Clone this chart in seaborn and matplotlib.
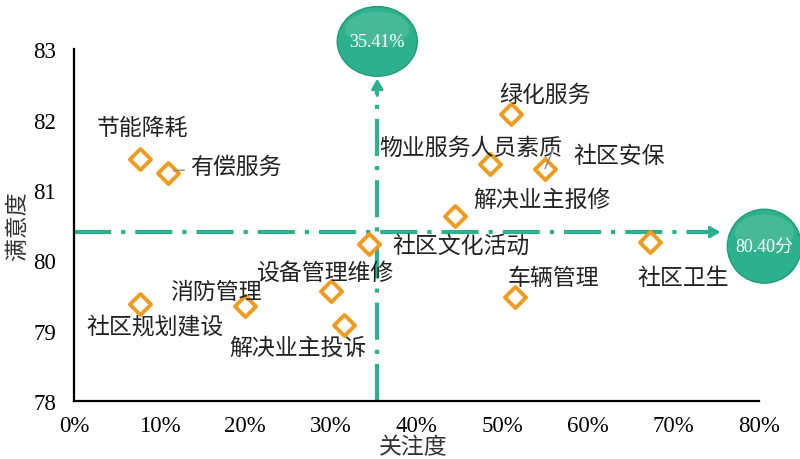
import numpy as np
import pandas as pd
import seaborn as sns
import matplotlib.pyplot as plt
from matplotlib.patches import Ellipse
from matplotlib.ticker import FuncFormatter

# data
items = ["节能降耗", "有偿服务", "绿化服务", "物业服务人员素质", "社区安保", "解决业主报修",
         "社区文化活动", "社区卫生", "车辆管理", "设备管理维修", "消防管理", "社区规划建设", "解决业主投诉"]
attention = [7.7, 11.0, 51.0, 48.6, 55.0, 44.5, 34.5, 67.2, 51.5, 30.0, 20.0, 7.7, 31.5]
satisfaction = [81.44, 81.24, 82.08, 81.37, 81.30, 80.63, 80.23, 80.26, 79.48, 79.56, 79.35, 79.38, 79.08]
mean_attention = 35.41
mean_satisfaction = 80.40

df = pd.DataFrame({"item": items, "attention": attention, "satisfaction": satisfaction})

sns.set_style("white")
plt.rcParams['font.family'] = ['Liberation Serif', 'Noto Sans CJK SC', 'DejaVu Sans']

teal = "#2DB08C"
orange = "#EE9B22"
dashdot = (0, (8.9, 2.4, 1, 2.4))

fig = plt.figure(figsize=(8, 4.6), dpi=100)
ax = fig.add_axes([0.0925, 0.126, 0.8565, 0.765])

# reference lines
ax.plot([mean_attention, mean_attention], [78, 82.5], color=teal, lw=3,
        linestyle=dashdot, zorder=1)
ax.plot([0, 75.0], [mean_satisfaction, mean_satisfaction], color=teal, lw=3,
        linestyle=dashdot, zorder=1)
ax.annotate("", xy=(mean_attention, 82.62), xytext=(mean_attention, 82.3),
            arrowprops=dict(arrowstyle="-|>,head_length=0.6,head_width=0.35", color=teal, lw=2),
            annotation_clip=False)
ax.annotate("", xy=(75.8, mean_satisfaction), xytext=(74.5, mean_satisfaction),
            arrowprops=dict(arrowstyle="-|>,head_length=0.6,head_width=0.35", color=teal, lw=2),
            annotation_clip=False)

# bubbles
for (cx, cy, w, h, txt) in [(mean_attention, 83.11, 9.35, 0.99, "35.41%"),
                            (80.6, 80.20, 8.64, 1.05, "80.40分")]:
    ax.add_patch(Ellipse((cx, cy), w, h, facecolor=teal, edgecolor="#1F9C78", lw=1,
                         clip_on=False, zorder=4))
    ax.add_patch(Ellipse((cx, cy + h * 0.18), w * 0.8, h * 0.5, facecolor="white",
                         alpha=0.12, lw=0, clip_on=False, zorder=4))
    ax.text(cx, cy, txt, ha="center", va="center", color="white", fontsize=13,
            zorder=5, clip_on=False)

sns.scatterplot(data=df, x="attention", y="satisfaction", marker="D", s=115,
                color="white", edgecolor=orange, linewidth=2.8, ax=ax, zorder=3,
                legend=False)

# point labels
label_pos = {
    "节能降耗": (8.0, 81.88),
    "绿化服务": (55.0, 82.35),
    "物业服务人员素质": (46.3, 81.6),
    "社区安保": (63.6, 81.48),
    "解决业主报修": (54.6, 80.85),
    "社区文化活动": (45.2, 80.2),
    "社区卫生": (71.1, 79.75),
    "车辆管理": (56.0, 79.74),
    "设备管理维修": (29.3, 79.82),
    "消防管理": (16.6, 79.54),
    "社区规划建设": (9.4, 79.06),
    "解决业主投诉": (26.1, 78.75),
}
for name, x, y in zip(items, attention, satisfaction):
    if name in label_pos:
        lx, ly = label_pos[name]
        ax.text(lx, ly, name, ha="center", va="center", fontsize=16.5, color="#222222")
ax.annotate("有偿服务", xy=(11.3, 81.27), xytext=(13.6, 81.32), fontsize=16.5,
            color="#222222", va="center", ha="left",
            arrowprops=dict(arrowstyle="-", color="#888888", lw=1))
ax.annotate("", xy=(55.0, 81.3), xytext=(56.0, 81.6),
            arrowprops=dict(arrowstyle="-", color="#888888", lw=1, shrinkA=0, shrinkB=0))

ax.set_xlim(0, 80)
ax.set_ylim(78, 83)
ax.set_xticks(np.arange(0, 81, 10))
ax.set_yticks([78, 79, 80, 81, 82, 83])
ax.xaxis.set_major_formatter(FuncFormatter(lambda v, p: f"{v:.0f}%"))
ax.tick_params(direction="in", length=5, width=1.5, labelsize=16.5, colors="black")
ax.tick_params(axis="x", pad=10)
ax.tick_params(axis="y", pad=13)
for side in ["top", "right"]:
    ax.spines[side].set_visible(False)
for side in ["left", "bottom"]:
    ax.spines[side].set_color("black")
    ax.spines[side].set_linewidth(1.6)

ax.set_xlabel("关注度", fontsize=16.5, color="#333333")
ax.set_ylabel("满意度", fontsize=16.5, color="#333333")
ax.xaxis.set_label_coords(0.495, -0.1)
ax.yaxis.set_label_coords(-0.066, 0.5)

fig.savefig("out.png", dpi=100)
